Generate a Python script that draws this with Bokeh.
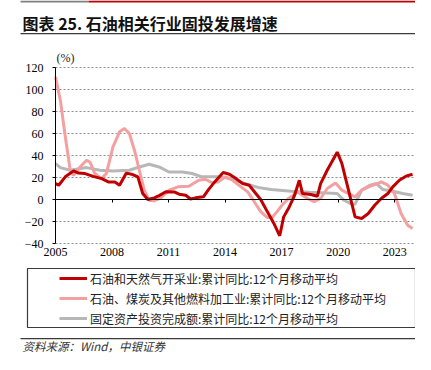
from bokeh.plotting import figure
from bokeh.models import (FixedTicker, Legend, LegendItem, LinearAxis, Range1d,
                          BasicTickFormatter)
from bokeh.core.properties import value
from bokeh.embed import file_html
from bokeh.resources import INLINE

# ---------------- data ----------------
oil_gas_x = [2005.0, 2005.17, 2005.52, 2005.96, 2006.22, 2006.57, 2007.0, 2007.45, 2007.8, 2008.15,
             2008.4, 2008.76, 2009.1, 2009.37, 2009.63, 2009.9, 2010.24, 2010.5, 2010.86, 2011.3,
             2011.56, 2011.91, 2012.17, 2012.43, 2012.85, 2013.1, 2013.45, 2013.9, 2014.23, 2014.58,
             2014.93, 2015.28, 2015.63, 2015.89, 2016.24, 2016.59, 2016.9, 2017.11, 2017.37, 2017.67,
             2017.94, 2018.11, 2018.55, 2018.9, 2019.07, 2019.42, 2019.95, 2020.2, 2020.55, 2020.9,
             2021.25, 2021.6, 2021.94, 2022.29, 2022.64, 2022.9, 2023.25, 2023.6, 2023.95]
oil_gas_y = [14.5, 13, 20.6, 26, 24, 23.6, 21, 19, 16, 16,
             13, 24, 22.7, 20.6, 5.4, 0, 1.5, 3.5, 7, 6.9,
             4.8, 3.9, 0.5, 1.5, 2.4, 8.5, 16, 24.5, 23, 19,
             14.5, 13, 5.5, 0, -11, -21.8, -33, -15.8, -8, 3,
             17.5, 5.4, 4.5, 3, 14.5, 26.6, 43, 32.7, 8.5, -15.8,
             -17.3, -12.7, -5.2, 0.9, 5.4, 11.5, 17.5, 21.2, 23]

refining_x = [2005.0, 2005.26, 2005.52, 2005.78, 2005.96, 2006.3, 2006.65, 2006.83, 2007.09, 2007.44,
              2007.7, 2008.05, 2008.4, 2008.66, 2008.92, 2009.19, 2009.45, 2009.71, 2009.97, 2010.24,
              2010.59, 2011.03, 2011.5, 2012.08, 2012.6, 2012.95, 2013.3, 2013.65, 2014.0, 2014.4,
              2014.85, 2015.2, 2015.55, 2015.89, 2016.24, 2016.5, 2016.76, 2017.02, 2017.37, 2017.85,
              2018.37, 2018.72, 2019.07, 2019.42, 2019.86, 2020.2, 2020.55, 2020.9, 2021.25, 2021.68,
              2022.03, 2022.29, 2022.64, 2022.99, 2023.34, 2023.69, 2023.95]
refining_y = [111.5, 90, 57, 26.6, 22, 29.6, 35.7, 34, 23.6, 19,
              23.6, 47.8, 61.5, 64.5, 60, 44.8, 26.6, 8.5, -0.6, -1.2,
              1.5, 8.5, 11.5, 12, 17.5, 18.4, 15.4, 16, 20.6, 17.5,
              11.5, 6.9, -2, -11, -16.4, -16.4, -11, -5.2, 1, 6.9,
              0.9, -2, 0.9, 10, 15, 8.5, 5.4, 2.4, 8.5, 12,
              14, 16, 13, 5.4, -12.7, -23.4, -26.4]

fai_x = [2005.0, 2005.26, 2005.78, 2006.65, 2007.35, 2008.05, 2008.92, 2009.45, 2009.97, 2010.5,
         2011.02, 2011.73, 2012.25, 2012.78, 2013.65, 2014.35, 2015.05, 2015.75, 2016.45, 2017.5,
         2018.5, 2019.95, 2020.3, 2020.73, 2020.9, 2021.25, 2021.68, 2022.03, 2022.38, 2022.9,
         2023.43, 2023.95]
fai_y = [32.7, 29, 26.6, 29, 26.6, 26, 26.6, 29.6, 32, 29.6,
         25, 25, 23.6, 20.6, 20.6, 19, 14.5, 11, 9, 7.5,
         6.5, 5.4, -0.6, -4.3, -4.3, 8.5, 13, 14.5, 9, 7.5,
         5.4, 3.9]

series_names = ["石油和天然气开采业:累计同比:12个月移动平均",
                "石油、煤炭及其他燃料加工业:累计同比:12个月移动平均",
                "固定资产投资完成额:累计同比:12个月移动平均"]
x_ticks = [2005, 2008, 2011, 2014, 2017, 2020, 2023]
y_ticks = [-40, -20, 0, 20, 40, 60, 80, 100, 120]
x_start, x_end = 2005, 2024
y_min, y_max = -40, 120

title_text = "图表 25. 石油相关行业固投发展增速"
unit_text = "(%)"
source_text = "资料来源：Wind，中银证券"

# ---------------- styling / layout ----------------
RED = "#C00000"
PINK = "#F4A0A0"
GRAY = "#B7B7B7"
DARK = "#3A3A3A"
SERIF = "Liberation Serif"
CJK = "Noto Sans CJK SC"

W, H = 415, 354
PLOT_L, PLOT_R, PLOT_T, PLOT_B = 55, 413, 67, 243   # pixel box of the plotting area

sx = (PLOT_R - PLOT_L) / (x_end - x_start)
sy = (PLOT_B - PLOT_T) / (y_max - y_min)


def px_x(px):
    return x_start + (px - PLOT_L) / sx


def px_y(py):
    return y_max - (py - PLOT_T) / sy


p = figure(width=W, height=H, output_backend="svg", toolbar_location=None,
           x_axis_type=None, y_axis_type=None, min_border=0,
           x_range=Range1d(px_x(0), px_x(W)), y_range=Range1d(px_y(H), px_y(0)))
p.outline_line_color = None
p.background_fill_color = "white"
p.border_fill_color = "white"

# horizontal dashed grid
p.segment(x0=[x_start] * len(y_ticks), x1=[x_end] * len(y_ticks), y0=y_ticks, y1=y_ticks,
          line_color="#8C8C8C", line_dash="2 2", line_width=1)

# y axis at 2005
yaxis = LinearAxis(fixed_location=x_start, ticker=FixedTicker(ticks=y_ticks), bounds=(y_min, y_max),
                   axis_line_color="black", axis_line_width=1,
                   major_tick_line_color="black", major_tick_in=0, major_tick_out=3,
                   minor_tick_line_color=None, major_label_standoff=9,
                   major_label_text_font=SERIF, major_label_text_font_size="12px",
                   major_label_text_color="black")
p.add_layout(yaxis, "left")

# zero line with tick marks (no labels)
zaxis = LinearAxis(fixed_location=0, ticker=FixedTicker(ticks=x_ticks), bounds=(x_start, x_end),
                   axis_line_color="black", axis_line_width=1.2,
                   major_tick_line_color="black", major_tick_in=0, major_tick_out=3,
                   minor_tick_line_color=None, major_label_text_color=None)
p.add_layout(zaxis, "below")

# year labels under the plotting area
xaxis = LinearAxis(fixed_location=y_min, ticker=FixedTicker(ticks=x_ticks),
                   formatter=BasicTickFormatter(use_scientific=False),
                   axis_line_color=None, major_tick_line_color=None, minor_tick_line_color=None,
                   major_tick_in=0, major_tick_out=0, major_label_standoff=4,
                   major_label_text_font=SERIF, major_label_text_font_size="12px",
                   major_label_text_color="black")
p.add_layout(xaxis, "below")

# series
r3 = p.line(fai_x, fai_y, line_color=GRAY, line_width=3)
r2 = p.line(refining_x, refining_y, line_color=PINK, line_width=3)
r1 = p.line(oil_gas_x, oil_gas_y, line_color=RED, line_width=3)

# legend
legend = Legend(items=[LegendItem(label=series_names[0], renderers=[r1]),
                       LegendItem(label=series_names[1], renderers=[r2]),
                       LegendItem(label=series_names[2], renderers=[r3])],
                location=(59, H - 328), padding=0, margin=0, spacing=0,
                glyph_width=28, glyph_height=20, label_height=20, label_standoff=3,
                label_text_font=CJK, label_text_font_size="12px", label_text_color="#222222",
                border_line_color=None, background_fill_alpha=0)
p.add_layout(legend, "center")

# legend frame
p.quad(left=px_x(27), right=px_x(415), top=px_y(268), bottom=px_y(327),
       fill_color=None, line_color=DARK, line_width=1.2)

# top bar
p.quad(left=px_x(20), right=px_x(88), top=px_y(0), bottom=px_y(2),
       fill_color="#808080", line_color=None)
p.quad(left=px_x(88), right=px_x(W), top=px_y(0), bottom=px_y(2),
       fill_color=RED, line_color=None)
# title underline and source rule
p.quad(left=px_x(20), right=px_x(W), top=px_y(32.6), bottom=px_y(33.8),
       fill_color=DARK, line_color=None)
p.quad(left=px_x(20), right=px_x(W), top=px_y(337.6), bottom=px_y(338.8),
       fill_color=DARK, line_color=None)

# texts
p.text(x=[px_x(22)], y=[px_y(22)], text=[title_text], text_font=value(CJK),
       text_font_style="bold", text_font_size=value("16px"), text_color="#111111",
       text_baseline="middle", text_align="left")
p.text(x=[px_x(56)], y=[px_y(57)], text=[unit_text], text_font=value(SERIF),
       text_font_size=value("12px"), text_color="#222222",
       text_baseline="middle", text_align="left")
p.text(x=[px_x(22)], y=[px_y(345.5)], text=[source_text], text_font=value(CJK),
       text_font_style="italic", text_font_size=value("11.5px"), text_color="#333333",
       text_baseline="middle", text_align="left")

open("out.html", "w").write(file_html(p, INLINE))
